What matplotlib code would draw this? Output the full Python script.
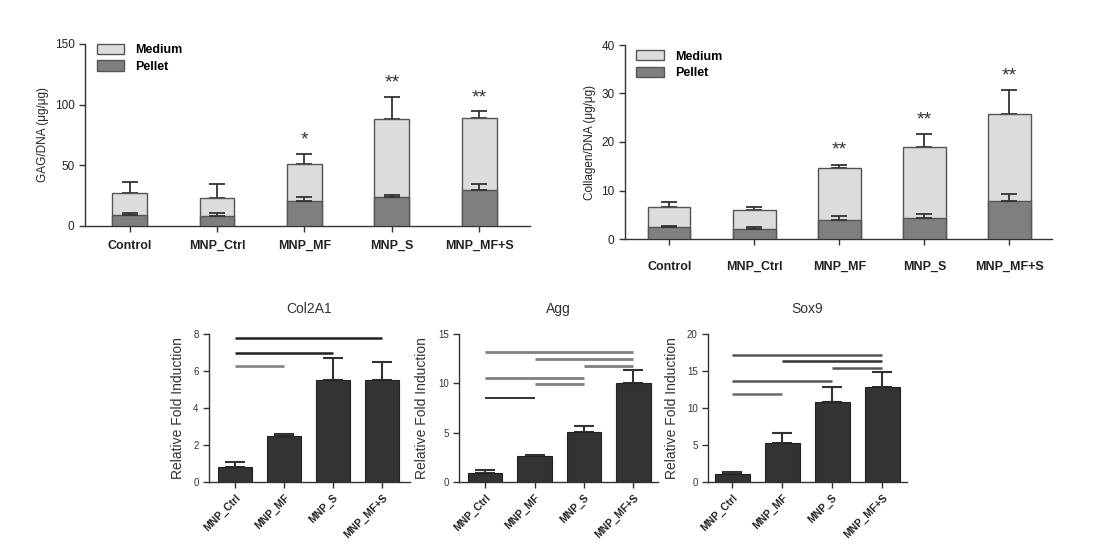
import matplotlib
matplotlib.use("Agg")
import matplotlib.pyplot as plt
from matplotlib.patches import Patch

plt.rcParams['font.family'] = ['Liberation Sans', 'DejaVu Sans']

groups5 = ["Control", "MNP_Ctrl", "MNP_MF", "MNP_S", "MNP_MF+S"]
groups4 = ["MNP_Ctrl", "MNP_MF", "MNP_S", "MNP_MF+S"]

# GAG/DNA stacked (total = medium+pellet)
gag_total = [27.2, 23.4, 51.4, 88.5, 88.7]
gag_total_err = [8.8, 11.2, 8.2, 18.1, 5.8]
gag_pellet = [9.3, 8.5, 20.9, 24.2, 29.9]
gag_pellet_err = [1.1, 1.9, 3.3, 1.3, 5.0]
gag_stars = ["", "", "*", "**", "**"]

# Collagen/DNA stacked
col_total = [6.7, 5.9, 14.6, 19.0, 25.8]
col_total_err = [1.0, 0.6, 0.7, 2.6, 4.9]
col_pellet = [2.4, 2.0, 3.9, 4.3, 7.8]
col_pellet_err = [0.3, 0.5, 0.8, 0.9, 1.5]
col_stars = ["", "", "**", "**", "**"]

# Gene expression
col2a1 = [0.83, 2.49, 5.49, 5.50]
col2a1_err = [0.24, 0.09, 1.21, 0.96]
agg = [0.95, 2.64, 5.05, 10.03]
agg_err = [0.27, 0.14, 0.65, 1.33]
sox9 = [1.08, 5.24, 10.75, 12.87]
sox9_err = [0.27, 1.44, 2.05, 1.93]

# significance bars: (start, end, y, colour, width)
col2a1_sig = [(0, 3, 7.78, "#222222", 1.8), (0, 2, 7.0, "#222222", 1.8), (0, 1, 6.26, "#8a8a8a", 2.0)]
agg_sig = [(0, 3, 13.15, "#808080", 2.0), (1, 3, 12.5, "#808080", 2.0), (2, 3, 11.8, "#808080", 2.0),
           (0, 2, 10.54, "#808080", 2.0), (1, 2, 9.93, "#808080", 2.0), (0, 1, 8.54, "#222222", 1.3)]
sox9_sig = [(0, 3, 17.2, "#555555", 1.8), (1, 3, 16.3, "#333333", 1.8), (2, 3, 15.35, "#555555", 1.8),
            (0, 2, 13.7, "#555555", 1.8), (0, 1, 11.9, "#6a6a6a", 1.8)]

W, H = 1112, 560
fig = plt.figure(figsize=(W / 100, H / 100), dpi=100)


def axpos(l, r, t, b):
    return [l / W, 1 - b / H, (r - l) / W, (b - t) / H]


MED = "#dcdcdc"
PEL = "#7f7f7f"
EDGE = "#555555"


def style(ax):
    for s in ("top", "right"):
        ax.spines[s].set_visible(False)
    for s in ("left", "bottom"):
        ax.spines[s].set_color("#333333")
        ax.spines[s].set_linewidth(1.0)
    ax.tick_params(axis="both", direction="out", color="#333333", length=4, width=1)


def stacked(ax, total, terr, pellet, perr, stars, ymax, ystep, ylabel, width, xlim, star_off, legend_anchor):
    x = list(range(len(groups5)))
    ax.bar(x, total, width=width, color=MED, edgecolor=EDGE, linewidth=1.0, zorder=2)
    ax.errorbar(x, total, yerr=[[0] * 5, terr], fmt="none", ecolor="#333333",
                elinewidth=1.3, capsize=6, capthick=1.3, zorder=1)
    ax.bar(x, pellet, width=width, color=PEL, edgecolor=EDGE, linewidth=1.0, zorder=3)
    ax.errorbar(x, pellet, yerr=[[0] * 5, perr], fmt="none", ecolor="#333333",
                elinewidth=1.3, capsize=6, capthick=1.3, zorder=4)
    for xi, t, e, s in zip(x, total, terr, stars):
        if s:
            ax.text(xi, t + e + star_off, s, ha="center", va="center", fontsize=14, color="#333333")
    ax.set_ylim(0, ymax)
    ax.set_yticks(range(0, ymax + 1, ystep))
    ax.set_xlim(*xlim)
    ax.set_xticks(x)
    ax.set_xticklabels(groups5, fontsize=9, fontweight="bold", color="#222222")
    ax.tick_params(axis="x", pad=6)
    ax.tick_params(axis="y", labelsize=8.5, labelcolor="#222222")
    ax.set_ylabel(ylabel, fontsize=8.5, color="#222222")
    style(ax)
    handles = [Patch(facecolor=MED, edgecolor=EDGE), Patch(facecolor=PEL, edgecolor=EDGE)]
    ax.legend(handles, ["Medium", "Pellet"], loc="upper left", bbox_to_anchor=legend_anchor,
              frameon=False, prop={"weight": "bold", "size": 9}, handlelength=2.2,
              handleheight=0.9, labelspacing=0.35, handletextpad=0.9, borderaxespad=0)


ax1 = fig.add_axes(axpos(85, 530, 44, 226))
stacked(ax1, gag_total, gag_total_err, gag_pellet, gag_pellet_err, gag_stars, 150, 50,
        "GAG/DNA (\u03bcg/\u03bcg)", 0.4, (-0.51, 4.58), 11, (0.015, 1.03))

ax2 = fig.add_axes(axpos(625, 1052, 45, 239))
stacked(ax2, col_total, col_total_err, col_pellet, col_pellet_err, col_stars, 40, 10,
        "Collagen/DNA (\u03bcg/\u03bcg)", 0.5, (-0.52, 4.5), 3, (0.015, 1.0))
ax2.tick_params(axis="x", pad=12)


def gene(ax, vals, errs, sig, title, ymax, ystep, xlim):
    x = list(range(len(groups4)))
    ax.bar(x, vals, width=0.7, color="#333333", edgecolor="#222222", linewidth=0.8, zorder=2)
    ax.errorbar(x, vals, yerr=[[0] * 4, errs], fmt="none", ecolor="#333333",
                elinewidth=1.5, capsize=7, capthick=1.5, zorder=1)
    for a, b, y, c, lw in sig:
        ax.plot([a, b], [y, y], color=c, linewidth=lw, solid_capstyle="butt", zorder=3)
    ax.set_ylim(0, ymax)
    ax.set_yticks(range(0, ymax + 1, ystep))
    ax.set_xlim(*xlim)
    ax.set_xticks(x)
    ax.set_xticklabels(groups4, rotation=45, ha="right", rotation_mode="anchor",
                       fontsize=7.5, fontweight="bold", color="#222222")
    ax.tick_params(axis="y", labelsize=7, labelcolor="#333333")
    ax.set_ylabel("Relative Fold Induction", fontsize=10, color="#333333", labelpad=6)
    ax.set_title(title, fontsize=10, color="#333333", pad=15)
    style(ax)


ax3 = fig.add_axes(axpos(209, 410, 334, 482))
gene(ax3, col2a1, col2a1_err, col2a1_sig, "Col2A1", 8, 2, (-0.53, 3.57))
ax4 = fig.add_axes(axpos(459, 658, 334, 482))
gene(ax4, agg, agg_err, agg_sig, "Agg", 15, 5, (-0.53, 3.5))
ax5 = fig.add_axes(axpos(708, 907, 334, 482))
gene(ax5, sox9, sox9_err, sox9_sig, "Sox9", 20, 5, (-0.48, 3.5))

fig.savefig("out.png", dpi=100, facecolor="white")
